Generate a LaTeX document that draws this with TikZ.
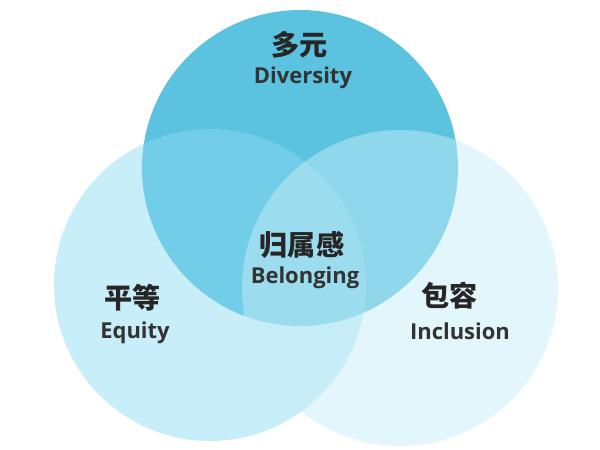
\documentclass[tikz,border=0pt]{standalone}
\usepackage{fontspec}
\setmainfont{Open Sans}
\newfontfamily\cjk{Noto Sans CJK SC}
\definecolor{topblue}{HTML}{5BC3DF}
\definecolor{leftblue}{HTML}{8CDBF2}
\definecolor{rightblue}{HTML}{C6EDF7}
\tikzset{
  zh/.style={font=\cjk\bfseries\fontsize{16}{16}\selectfont, text=black!85},
  en/.style={font=\bfseries\fontsize{12.5}{13}\selectfont, text=black!80},
}
\begin{document}
\begin{tikzpicture}[x=0.02cm,y=-0.02cm]
  \useasboundingbox (0,0) rectangle (600,450);
  % circles
  \fill[topblue] (300,168) circle (158);
  \fill[leftblue,opacity=0.48] (210,285) circle (156);
  \fill[rightblue,opacity=0.49] (400,288) circle (158);
  % labels
  \node[zh] (div zh) at (300,45) {多元};
  \node[en] (div en) at (303,78) {Diversity};
  \node[zh] (bel zh) at (302,245) {归属感};
  \node[en] (bel en) at (305,278) {Belonging};
  \node[zh] (eq zh) at (133,298) {平等};
  \node[en] (eq en) at (135,333) {Equity};
  \node[zh] (inc zh) at (450,296) {包容};
  \node[en] (inc en) at (460,331) {Inclusion};
\end{tikzpicture}
\end{document}
